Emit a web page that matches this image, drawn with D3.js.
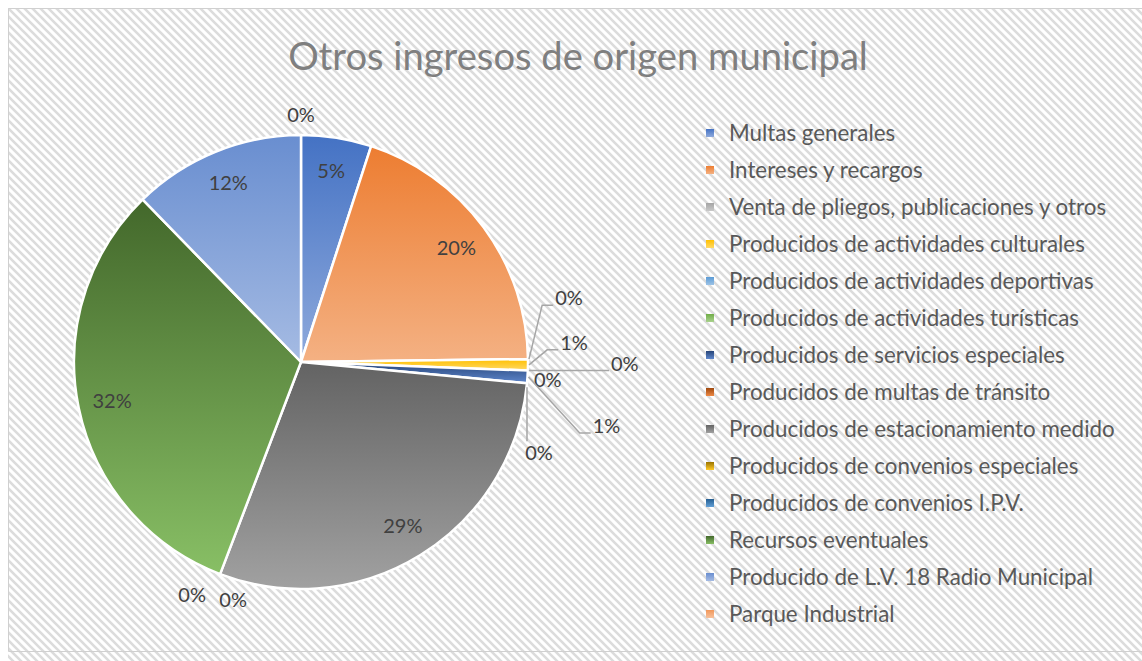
<!DOCTYPE html>
<html>
<head>
<meta charset="utf-8">
<script src="https://cdn.jsdelivr.net/npm/d3@7"></script>
<style>
  html, body { margin: 0; padding: 0; background: #fff; }
  svg { display: block; font-family: Lato, "Open Sans", sans-serif; }
</style>
</head>
<body>
<div id="chart"></div>
<script>
// Datos del gráfico
const categorias = [
  'Multas generales',
  'Intereses y recargos',
  'Venta de pliegos, publicaciones y otros',
  'Producidos de actividades culturales',
  'Producidos de actividades deportivas',
  'Producidos de actividades turísticas',
  'Producidos de servicios especiales',
  'Producidos de multas de tránsito',
  'Producidos de estacionamiento medido',
  'Producidos de convenios especiales',
  'Producidos de convenios I.P.V.',
  'Recursos eventuales',
  'Producido de L.V. 18 Radio Municipal',
  'Parque Industrial'
];
const valores = [5.0, 19.8, 0, 0.8, 0, 0, 0.9, 0, 29.3, 0, 0, 31.9, 12.3, 0];
const colores = ['#4472C4', '#ED7D31', '#A5A5A5', '#FFC000', '#5B9BD5', '#70AD47',
  '#264478', '#9E480E', '#636363', '#997300', '#255E91', '#43682B', '#698ED0', '#F1975A'];
const titulo = 'Otros ingresos de origen municipal';

// Posición de las etiquetas pequeñas (desplazamiento desde el borde de la porción), null = dentro
const etiquetasFuera = [null, null, [41, -61, true], [46, -22, true], [20, 9, false], [97, -7, true],
  [79, 49, true], [12, 70, true], null, [-28, 21, false], [13, 26, false], null, null, [0, -20, false]];

const width = 1142, height = 661;
const cx = 301, cy = 362, radius = 227;

const svg = d3.select('#chart').append('svg')
  .attr('width', width)
  .attr('height', height);

const defs = svg.append('defs');

// Patrón de fondo (diagonal)
const pat = defs.append('pattern')
  .attr('id', 'rayas')
  .attr('patternUnits', 'userSpaceOnUse')
  .attr('width', 8).attr('height', 8);
pat.append('rect').attr('width', 8).attr('height', 8).attr('fill', '#fff');
pat.append('path')
  .attr('d', 'M-2,-2 L10,10 M-2,6 L2,10 M6,-2 L10,2')
  .attr('stroke', '#dcdcdc')
  .attr('stroke-width', 2.6);

// Degradados por categoría (más claro abajo, misma saturación)
function aclarar(c) {
  const h = d3.hsl(c);
  h.l = h.l + (1 - h.l) * 0.4;
  return h.formatHex();
}
colores.forEach((c, i) => {
  const g = defs.append('linearGradient')
    .attr('id', 'grad' + i)
    .attr('x1', 0).attr('y1', 0).attr('x2', 0).attr('y2', 1);
  g.append('stop').attr('offset', '0%').attr('stop-color', c);
  g.append('stop').attr('offset', '100%').attr('stop-color', aclarar(c));
});

svg.append('rect')
  .attr('x', 8).attr('y', 8)
  .attr('width', width - 8).attr('height', height - 8)
  .attr('fill', 'url(#rayas)');
svg.append('path')
  .attr('d', `M${width},8.5 H8.5 V651.5 H${width}`)
  .attr('fill', 'none')
  .attr('stroke', '#d0d0d0')
  .attr('stroke-width', 1);

// Título
const tit = svg.append('text')
  .attr('x', 578).attr('y', 70)
  .attr('text-anchor', 'middle')
  .attr('fill', '#7f7f7f')
  .attr('font-size', 40)
  .text(titulo);
const tw = tit.node().getComputedTextLength();
tit.attr('font-size', 40 * 580 / tw);

// Pie
const total = d3.sum(valores);
const datos = categorias.map((c, i) => ({ nombre: c, valor: valores[i], i: i }));
const pie = d3.pie().sort(null).value(d => d.valor);
const arcos = pie(datos);
const arc = d3.arc().innerRadius(0).outerRadius(radius);

const g = svg.append('g').attr('transform', `translate(${cx},${cy})`);

g.selectAll('path.slice')
  .data(arcos.filter(d => d.data.valor > 0))
  .enter()
  .append('path')
  .attr('class', 'slice')
  .attr('d', arc)
  .attr('fill', d => `url(#grad${d.data.i})`)
  .attr('stroke', '#fff')
  .attr('stroke-width', 2.5)
  .attr('stroke-linejoin', 'round');

const fmt = d => Math.round(d.data.valor / total * 100) + '%';
const labelSize = 20;

// Etiquetas
arcos.forEach(d => {
  const ang = (d.startAngle + d.endAngle) / 2;
  const off = etiquetasFuera[d.data.i];
  if (!off) {
    const r = radius * 0.85;
    g.append('text')
      .attr('x', Math.sin(ang) * r)
      .attr('y', -Math.cos(ang) * r)
      .attr('dy', '0.35em')
      .attr('text-anchor', 'middle')
      .attr('font-size', labelSize)
      .attr('fill', '#404040')
      .text(fmt(d));
    return;
  }
  const ax = Math.sin(ang) * radius, ay = -Math.cos(ang) * radius;
  const lx = ax + off[0], ly = ay + off[1];
  const t = g.append('text')
    .attr('x', lx).attr('y', ly)
    .attr('dy', '0.35em')
    .attr('text-anchor', 'middle')
    .attr('font-size', labelSize)
    .attr('fill', '#404040')
    .text(fmt(d));
  if (off[2]) {
    const half = t.node().getComputedTextLength() / 2;
    let pts;
    if (Math.abs(off[0]) < 20) {
      pts = [[ax, ay + 4], [ax, ly - 12]];
    } else {
      const left = lx - half;
      pts = [[ax + 1, ay], [left - 13, ly + 7], [left - 2, ly + 7]];
    }
    g.append('path')
      .attr('d', d3.line()(pts))
      .attr('fill', 'none')
      .attr('stroke', '#a6a6a6')
      .attr('stroke-width', 1.5);
  }
});

// Leyenda
const leyenda = svg.append('g').attr('transform', 'translate(706,133)');
const filas = leyenda.selectAll('g')
  .data(categorias)
  .enter()
  .append('g')
  .attr('transform', (d, i) => `translate(0,${i * 37})`);
filas.append('rect')
  .attr('x', 0).attr('y', -4)
  .attr('width', 8).attr('height', 8)
  .attr('fill', (d, i) => `url(#grad${i})`);
const textos = filas.append('text')
  .attr('x', 23)
  .attr('dy', '0.35em')
  .attr('font-size', 19)
  .attr('fill', '#595959')
  .text(d => d);
// ajustar tamaño para que la más larga mida como en la referencia
const largo = d3.max(textos.nodes(), n => n.getComputedTextLength());
textos.attr('font-size', 19 * 386 / largo);
</script>
</body>
</html>
